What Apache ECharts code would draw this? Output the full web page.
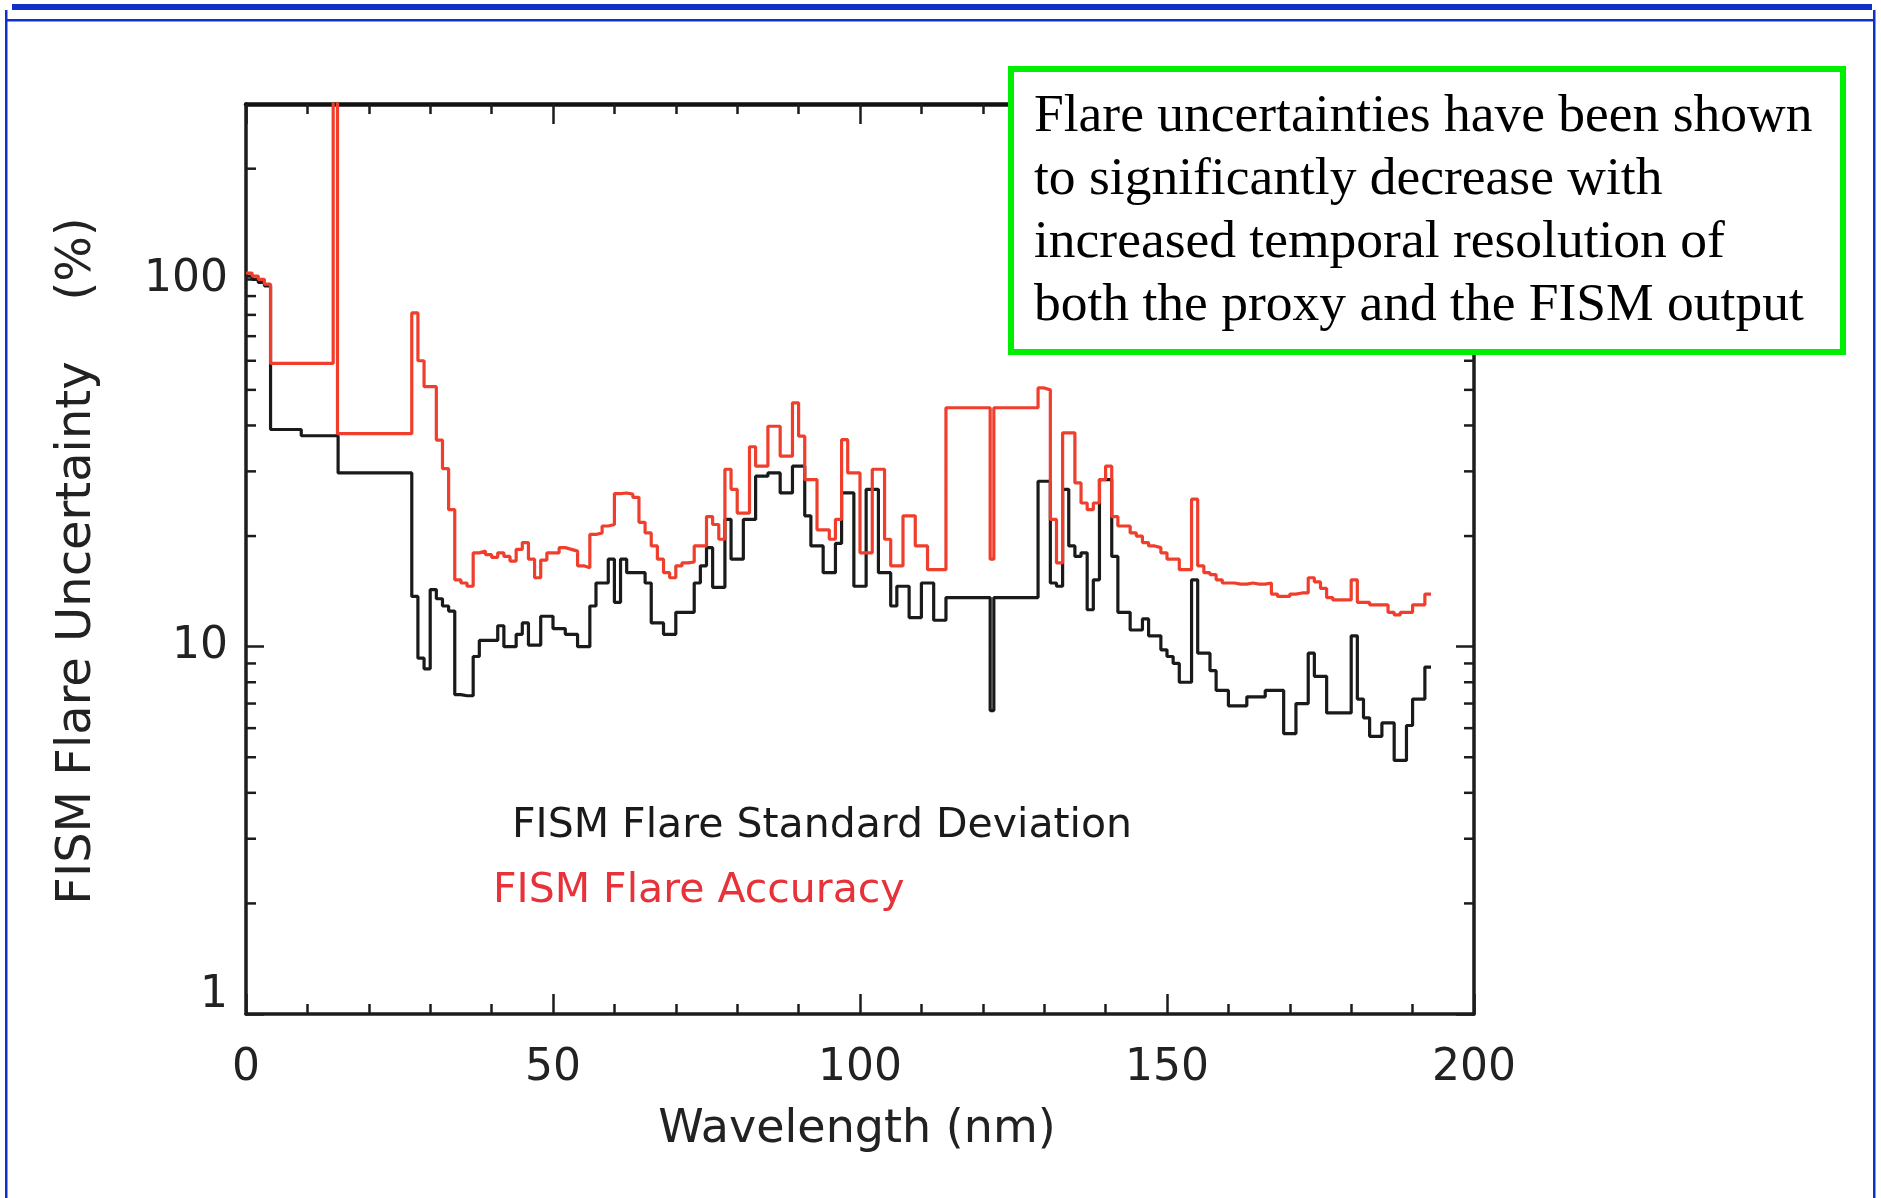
<!DOCTYPE html>
<html>
<head>
<meta charset="utf-8">
<title>FISM Flare Uncertainty</title>
<script src="https://cdn.jsdelivr.net/npm/echarts@6.0.0/dist/echarts.min.js"></script>
<style>
    html, body { margin: 0; padding: 0; background: #fff; }
    #chart { width: 1881px; height: 1198px; }
</style>
</head>
<body>
<div id="chart"></div>
<script>
// wide bins at the short wavelength end (nm, %)
var accHeadEdges = [0, 1, 2, 3, 4, 14.2, 14.9];
var accHeadValues = [104, 102, 100, 97, 59, 2000, 38];
var stdHeadEdges = [0, 1, 2, 3, 4, 9, 15];
var stdHeadValues = [102, 100, 98, 96, 39, 37.5, 29.7];

// 1 nm bins from 27 nm, Lyman-alpha bin narrowed; last edge closes the final bin
var binEdges = [
    27, 28, 29, 30, 31, 32, 33, 34, 35, 36,
    37, 38, 39, 40, 41, 42, 43, 44, 45, 46,
    47, 48, 49, 50, 51, 52, 53, 54, 55, 56,
    57, 58, 59, 60, 61, 62, 63, 64, 65, 66,
    67, 68, 69, 70, 71, 72, 73, 74, 75, 76,
    77, 78, 79, 80, 81, 82, 83, 84, 85, 86,
    87, 88, 89, 90, 91, 92, 93, 94, 95, 96,
    97, 98, 99, 100, 101, 102, 103, 104, 105, 106,
    107, 108, 109, 110, 111, 112, 113, 114, 115, 116,
    117, 118, 119, 120, 121.2, 121.8, 123, 124, 125, 126,
    127, 128, 129, 130, 131, 132, 133, 134, 135, 136,
    137, 138, 139, 140, 141, 142, 143, 144, 145, 146,
    147, 148, 149, 150, 151, 152, 153, 154, 155, 156,
    157, 158, 159, 160, 161, 162, 163, 164, 165, 166,
    167, 168, 169, 170, 171, 172, 173, 174, 175, 176,
    177, 178, 179, 180, 181, 182, 183, 184, 185, 186,
    187, 188, 189, 190, 191, 192, 193
];

// FISM Flare Accuracy (%)
var accValues = [
    81, 60, 51, 51, 36.5, 30.5, 23.6, 15.2, 14.9, 14.6,
    18, 18.2, 17.8, 17.5, 18, 17.6, 17.1, 18.4, 19.2, 17.3,
    15.4, 17.2, 18, 18, 18.6, 18.4, 18.2, 16.6, 16.4, 20.2,
    20.4, 21.3, 21.5, 26.1, 26.2, 26, 25.5, 21.8, 20.4, 18.8,
    17.3, 15.9, 15.4, 16.6, 16.9, 17, 18.8, 18.8, 22.6, 21.5,
    19.6, 30.4, 26.8, 23.1, 23.1, 35, 31, 31, 39.8, 39.8,
    33, 33, 46.1, 37.4, 28.5, 28.5, 20.8, 20.8, 19.6, 22.2,
    36.6, 29.7, 29.7, 18, 18, 30.4, 30.4, 19.6, 16.6, 16.6,
    22.7, 22.7, 18.8, 18.8, 16.2, 16.2, 16.2, 44.7, 44.7, 44.7,
    44.7, 44.7, 44.7, 44.7, 17.3, 44.7, 44.7, 44.7, 44.7, 44.7,
    44.7, 44.7, 50.6, 50, 22.2, 16.9, 38.2, 38.2, 27.9, 24.6,
    23.6, 24.6, 28.5, 31, 22.6, 21.3, 21.3, 20.4, 20, 19.2,
    18.8, 18.6, 18, 17.3, 17.3, 16.2, 16.2, 25.2, 16.6, 15.9,
    15.7, 15.2, 14.9, 14.9, 14.8, 14.8, 14.9, 14.8, 14.8, 14.9,
    13.9, 13.7, 13.7, 13.9, 14, 14, 15.4, 15, 14.4, 13.6,
    13.4, 13.4, 13.4, 15.2, 13.2, 13.2, 13, 13, 13, 12.4,
    12.2, 12.4, 12.4, 13, 13, 13.9
];

// FISM Flare Standard Deviation (%)
var stdValues = [
    13.7, 9.3, 8.7, 14.3, 13.5, 12.9, 12.5, 7.4, 7.35, 7.35,
    9.4, 10.4, 10.4, 10.4, 11.4, 10, 10, 10.8, 11.6, 10.1,
    10.1, 12.1, 12.1, 11.2, 11.2, 10.8, 10.8, 10, 10, 12.9,
    14.9, 14.9, 17.3, 13.2, 17.3, 15.9, 15.9, 15.9, 14.9, 11.6,
    11.6, 10.8, 10.8, 12.4, 12.4, 12.4, 14.9, 16.6, 18.6, 14.5,
    14.5, 22.2, 17.3, 17.3, 22.2, 22.2, 29.1, 29.1, 29.7, 29.7,
    26.2, 26.2, 31, 31, 22.7, 18.8, 18.8, 15.9, 15.9, 19.1,
    26.2, 26.2, 14.6, 14.6, 26.8, 26.8, 15.9, 15.9, 12.9, 14.6,
    14.6, 12, 12, 14.9, 14.9, 11.8, 11.8, 13.6, 13.6, 13.6,
    13.6, 13.6, 13.6, 13.6, 6.7, 13.6, 13.6, 13.6, 13.6, 13.6,
    13.6, 13.6, 28.2, 28.2, 14.9, 14.6, 26.8, 18.8, 17.6, 18,
    12.6, 15.2, 28.5, 28.5, 17.6, 12.4, 12.4, 11.1, 11.1, 11.9,
    10.7, 10.7, 9.8, 9.4, 9, 8, 8, 15.2, 9.6, 9.6,
    8.6, 7.6, 7.6, 6.9, 6.9, 6.9, 7.3, 7.3, 7.3, 7.6,
    7.6, 7.6, 5.8, 5.8, 7, 7, 9.6, 8.3, 8.3, 6.6,
    6.6, 6.6, 6.6, 10.7, 7.2, 6.4, 5.7, 5.7, 6.2, 6.2,
    4.9, 4.9, 6.1, 7.2, 7.2, 8.8
];

var yLabels = [1, 10, 100];
var logMinorTicks = [2, 3, 4, 5, 6, 7, 8, 9, 20, 30, 40, 50, 60, 70, 80, 90, 200];

var noteLines = [
    'Flare uncertainties have been shown',
    'to significantly decrease with',
    'increased temporal resolution of',
    'both the proxy and the FISM output'
];

var axisColor = '#1c1c1c';
var redColor = '#f03e2c';
var plotFont = '"DejaVu Sans", sans-serif';

function $each(arr, fn) {
    for (var i = 0; i < arr.length; i++) fn(arr[i], i);
}

// step line: horizontal from each left edge to the next one
function stepData(headEdges, headValues, values) {
    var data = [];
    $each(headEdges, function (x, i) { data.push([x, headValues[i]]); });
    $each(values, function (v, i) { data.push([binEdges[i], v]); });
    data.push([binEdges[values.length], values[values.length - 1]]);
    return data;
}

function axisBase(extra) {
    var base = {
        axisLine: {show: true, onZero: false, lineStyle: {color: axisColor, width: 3.5}},
        axisTick: {show: true, inside: true, lineStyle: {color: axisColor, width: 2.5}},
        splitLine: {show: false}
    };
    for (var k in extra) base[k] = extra[k];
    return base;
}

var chart = echarts.init(document.getElementById('chart'), null, {renderer: 'canvas'});

var noteText = [];
$each(noteLines, function (line, i) {
    noteText.push({
        type: 'text', z: 101, x: 1034, y: 117 + i * 63,
        style: {text: line, fill: '#000', fontSize: 53.5, fontFamily: '"Liberation Serif", "Times New Roman", serif',
            align: 'left', verticalAlign: 'middle'}
    });
});

var option = {
    animation: false,
    backgroundColor: '#fff',
    grid: {left: 246, right: 407, top: 104, bottom: 184},
    xAxis: [
        axisBase({
            type: 'value', position: 'bottom', min: 0, max: 200, interval: 50,
            axisTick: {show: true, inside: true, length: 20, lineStyle: {color: axisColor, width: 2.5}},
            minorTick: {show: true, splitNumber: 5, length: 10, lineStyle: {color: axisColor, width: 2.5}},
            axisLabel: {show: true, margin: 33, color: '#222', fontSize: 44, fontFamily: plotFont}
        }),
        axisBase({
            type: 'value', position: 'top', min: 0, max: 200, interval: 50,
            axisLine: {show: true, onZero: false, lineStyle: {color: '#111', width: 4.5}},
            axisTick: {show: true, inside: true, length: 20, lineStyle: {color: axisColor, width: 2.5}},
            minorTick: {show: true, splitNumber: 5, length: 10, lineStyle: {color: axisColor, width: 2.5}},
            axisLabel: {show: false}
        })
    ],
    yAxis: [
        axisBase({
            type: 'log', logBase: 10, position: 'left', min: 1, max: 300,
            axisTick: {show: true, inside: true, length: 18, lineStyle: {color: axisColor, width: 2.5}},
            axisLabel: {
                show: true, margin: 18, color: '#222', fontSize: 44, fontFamily: plotFont,
                showMinLabel: true, showMaxLabel: false,
                formatter: function (v) {
                    for (var i = 0; i < yLabels.length; i++) {
                        if (Math.abs(v - yLabels[i]) < 1e-6 * yLabels[i]) {
                            // the bottom label sits a little above the corner
                            return i === 0 ? '{low|1}' : String(yLabels[i]);
                        }
                    }
                    return '';
                },
                rich: {low: {fontSize: 44, fontFamily: plotFont, color: '#222', padding: [0, 0, 36, 0]}}
            }
        }),
        axisBase({
            type: 'log', logBase: 10, position: 'right', min: 1, max: 300,
            axisTick: {show: true, inside: true, length: 18, lineStyle: {color: axisColor, width: 2.5}},
            axisLabel: {show: false}
        })
    ],
    graphic: [
        // blue slide frame
        {type: 'rect', z: 90, shape: {x: 12, y: 4, width: 1860, height: 6}, style: {fill: '#1030c8'}},
        {type: 'rect', z: 90, shape: {x: 7, y: 19, width: 1868, height: 2.5}, style: {fill: '#1030c8'}},
        {type: 'rect', z: 90, shape: {x: 5, y: 10, width: 2.5, height: 1188}, style: {fill: '#1030c8'}},
        {type: 'rect', z: 90, shape: {x: 1873, y: 10, width: 2.5, height: 1188}, style: {fill: '#1030c8'}},
        // note box
        {type: 'rect', z: 100, shape: {x: 1011, y: 69, width: 832, height: 283},
            style: {fill: '#fff', stroke: '#00ee00', lineWidth: 6}},
        // axis titles
        {type: 'text', z: 50, x: 857, y: 1130,
            style: {text: 'Wavelength (nm)', fill: '#222', fontSize: 46, fontFamily: plotFont,
                align: 'center', verticalAlign: 'middle'}},
        {type: 'text', z: 50, x: 78, y: 561, rotation: Math.PI / 2,
            style: {text: 'FISM Flare Uncertainty\u00a0\u00a0\u00a0\u00a0(%)', fill: '#222', fontSize: 48,
                fontFamily: plotFont, align: 'center', verticalAlign: 'middle'}},
        // in-plot legend
        {type: 'text', z: 50, x: 512, y: 826,
            style: {text: 'FISM Flare Standard Deviation', fill: '#1a1a1a', fontSize: 41, fontFamily: plotFont,
                align: 'left', verticalAlign: 'middle'}},
        {type: 'text', z: 50, x: 493, y: 891,
            style: {text: 'FISM Flare Accuracy', fill: '#e8323a', fontSize: 41, fontFamily: plotFont,
                align: 'left', verticalAlign: 'middle'}}
    ].concat(noteText),
    series: [
        {
            name: 'FISM Flare Standard Deviation', type: 'line', step: 'end',
            symbol: 'none', clip: true, z: 3,
            lineStyle: {color: '#1a1a1a', width: 3.2},
            data: stepData(stdHeadEdges, stdHeadValues, stdValues)
        },
        {
            name: 'FISM Flare Accuracy', type: 'line', step: 'end',
            symbol: 'none', clip: true, z: 4,
            lineStyle: {color: redColor, width: 3.2},
            data: stepData(accHeadEdges, accHeadValues, accValues)
        },
        {
            // log minor ticks on left and right frame
            type: 'custom', silent: true, clip: false, z: 5,
            data: logMinorTicks.map(function (v) { return [0, v]; }),
            renderItem: function (params, api) {
                var left = api.coord([0, api.value(1)]);
                var right = api.coord([200, api.value(1)]);
                var style = {stroke: axisColor, lineWidth: 2.5};
                return {
                    type: 'group',
                    children: [
                        {type: 'line', shape: {x1: left[0], y1: left[1], x2: left[0] + 10, y2: left[1]}, style: style},
                        {type: 'line', shape: {x1: right[0], y1: right[1], x2: right[0] - 10, y2: right[1]}, style: style}
                    ]
                };
            }
        }
    ]
};

chart.setOption(option);
</script>
</body>
</html>
